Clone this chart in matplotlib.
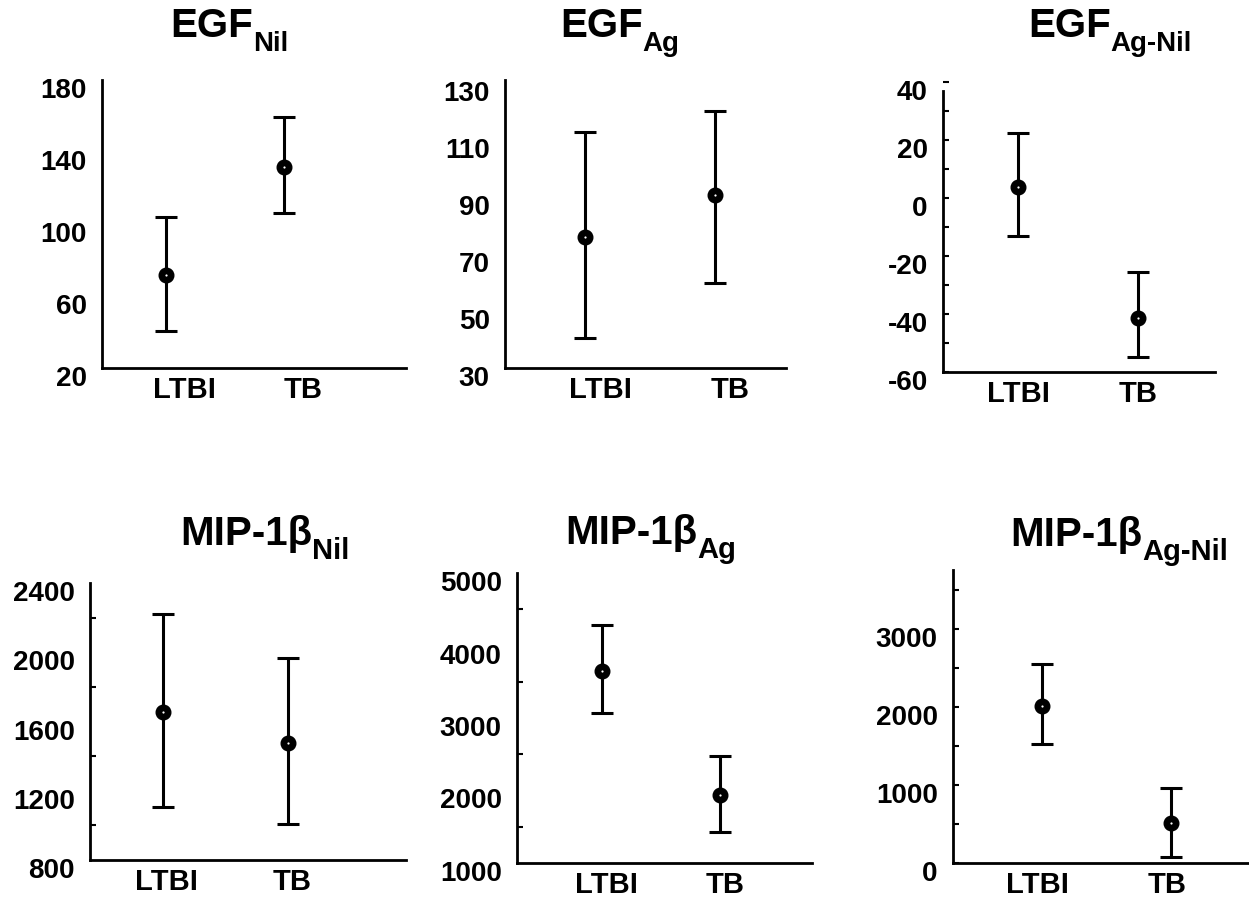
import matplotlib.pyplot as plt
from matplotlib.ticker import MultipleLocator, NullLocator
from matplotlib.transforms import ScaledTranslation

plt.rcParams['font.family'] = ['Liberation Sans', 'DejaVu Sans']
plt.rcParams['font.weight'] = 'bold'

# data (mean and interval ends)
groups = ['LTBI', 'TB']
x = [1, 2]

egf_nil_mean = [71.7, 131.7]
egf_nil_lo = [40.6, 106.1]
egf_nil_hi = [103.9, 159.4]
egf_nil_ticks = [20, 60, 100, 140, 180]

egf_ag_mean = [76.0, 90.7]
egf_ag_lo = [40.5, 59.8]
egf_ag_hi = [112.8, 120.2]
egf_ag_ticks = [30, 50, 70, 90, 110, 130]

egf_agnil_mean = [3.8, -41.4]
egf_agnil_lo = [-13.1, -54.8]
egf_agnil_hi = [22.4, -25.5]
egf_agnil_ticks = [-60, -40, -20, 0, 20, 40]

mip_nil_mean = [1655, 1476]
mip_nil_lo = [1106, 1008]
mip_nil_hi = [2221, 1967]
mip_nil_ticks = [800, 1200, 1600, 2000, 2400]

mip_ag_mean = [3653, 1944]
mip_ag_lo = [3069, 1431]
mip_ag_hi = [4278, 2472]
mip_ag_ticks = [1000, 2000, 3000, 4000, 5000]

mip_agnil_mean = [2013, 513]
mip_agnil_lo = [1526, 77]
mip_agnil_hi = [2551, 962]
mip_agnil_ticks = [0, 1000, 2000, 3000]

W, H = 1249, 899
fig = plt.figure(figsize=(W / 100, H / 100), dpi=100)


def rect(left, top, right, bottom):
    return [left / W, 1 - bottom / H, (right - left) / W, (bottom - top) / H]


# (title, subscript, mean, lo, hi, yticks, axes rect, xlim, ylim, spine top, minor step,
#  label shift, tick mode, title x, title baseline, title size, sub size)
panels = [
    ('EGF', 'Nil', egf_nil_mean, egf_nil_lo, egf_nil_hi, egf_nil_ticks, rect(102, 80, 406, 368),
     (0.462, 3.026), (20, 180), 180, None, 0.16, 'none', 170, 37, 29, 20),
    ('EGF', 'Ag', egf_ag_mean, egf_ag_lo, egf_ag_hi, egf_ag_ticks, rect(505, 80, 786, 368),
     (0.383, 2.548), (30, 131), 131, None, 0.12, 'none', 560, 37, 29, 20),
    ('EGF', 'Ag-Nil', egf_agnil_mean, egf_agnil_lo, egf_agnil_hi, egf_agnil_ticks,
     rect(943, 82, 1215, 372), (0.374, 2.642), (-60, 40), 37, 10, 0.0, 'both', 1028, 37, 29, 20),
    ('MIP-1β', 'Nil', mip_nil_mean, mip_nil_lo, mip_nil_hi, mip_nil_ticks, rect(90, 583, 406, 860),
     (0.417, 2.942), (800, 2400), 2400, 200, 0.03, 'minor', 180, 545, 29, 21),
    ('MIP-1β', 'Ag', mip_ag_mean, mip_ag_lo, mip_ag_hi, mip_ag_ticks, rect(517, 573, 812, 863),
     (0.28, 2.78), (1000, 5000), 5000, 500, 0.04, 'minor', 565, 544, 29, 21),
    ('MIP-1β', 'Ag-Nil', mip_agnil_mean, mip_agnil_lo, mip_agnil_hi, mip_agnil_ticks,
     rect(953, 570, 1249, 863), (0.312, 2.606), (0, 3750), 3750, 500, -0.03, 'both',
     1010, 546, 29, 21),
]

shift_down = ScaledTranslation(0, -0.08, fig.dpi_scale_trans)

for (name, sub, mean, lo, hi, yticks, r, xlim, ylim, top, minor, dx, mode,
     tx, ty, tsize, ssize) in panels:
    ax = fig.add_axes(r)
    yerr = [[m - l for m, l in zip(mean, lo)], [h - m for m, h in zip(mean, hi)]]
    ax.errorbar(x, mean, yerr=yerr, fmt='o', color='black', ms=10.5,
                elinewidth=2.2, capsize=8, capthick=2.2)
    ax.plot(x, mean, 'o', color='white', ms=1.6, mew=0, zorder=5)

    ax.set_xlim(*xlim)
    ax.set_ylim(*ylim)
    for s in ['top', 'right']:
        ax.spines[s].set_visible(False)
    for s in ['left', 'bottom']:
        ax.spines[s].set_linewidth(2)
    ax.spines['left'].set_bounds(ylim[0], top)

    ax.set_xticks([v + dx for v in x])
    ax.set_xticklabels(groups, fontsize=21, fontweight='bold')
    ax.tick_params(axis='x', length=0, pad=6)

    ax.set_yticks(yticks)
    ax.set_yticklabels([str(v) for v in yticks])
    if minor:
        ax.yaxis.set_minor_locator(MultipleLocator(minor))
    else:
        ax.yaxis.set_minor_locator(NullLocator())
    major_len = 4 if mode == 'both' else 0
    ax.tick_params(axis='y', which='major', direction='in', length=major_len,
                   width=1.5, labelsize=20, pad=11)
    ax.tick_params(axis='y', which='minor', direction='in', length=4, width=1.5)
    for lab in ax.get_yticklabels():
        lab.set_fontweight('bold')
        lab.set_transform(lab.get_transform() + shift_down)

    t = fig.text(tx / W, 1 - ty / H, name, fontsize=tsize, fontweight='bold',
                 ha='left', va='baseline')
    ax.annotate(sub, xy=(1, 0), xycoords=t, xytext=(0, -4), textcoords='offset points',
                fontsize=ssize, fontweight='bold', ha='left', va='baseline',
                annotation_clip=False)

fig.savefig('out.png', dpi=100)
